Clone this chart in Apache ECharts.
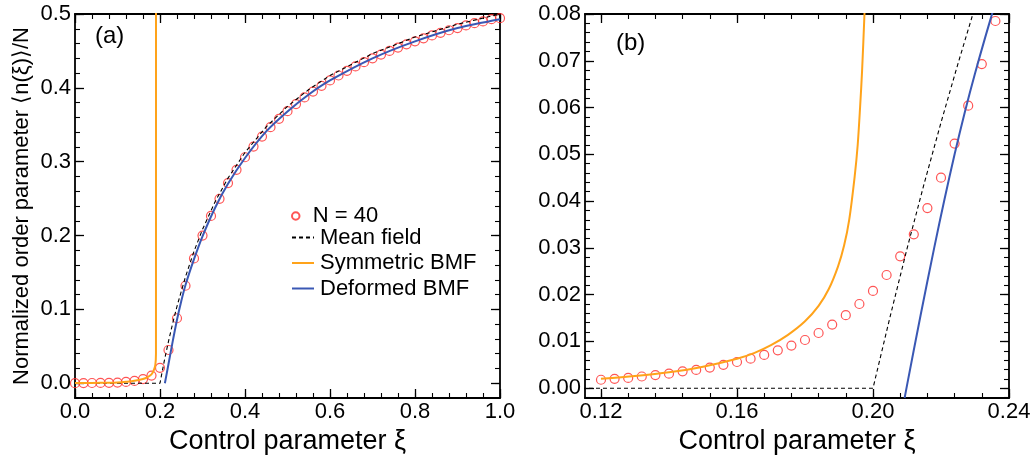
<!DOCTYPE html>
<html><head><meta charset="utf-8">
<script src="https://cdn.jsdelivr.net/npm/echarts@6/dist/echarts.min.js"></script>
<style>html,body{margin:0;padding:0;background:#fff}#c{width:1035px;height:459px}</style>
</head><body><div id="c"></div>
<script>
// ---------- Panel (a) data ----------
const aXi = [0,0.02,0.04,0.06,0.08,0.10,0.12,0.14,0.16,0.18,0.20,0.22,0.24,0.26,0.28,0.30,0.32,0.34,0.36,0.38,0.40,0.42,0.44,0.46,0.48,0.50,0.52,0.54,0.56,0.58,0.60,0.62,0.64,0.66,0.68,0.70,0.72,0.74,0.76,0.78,0.80,0.82,0.84,0.86,0.88,0.90,0.92,0.94,0.96,0.98,1.00];
const aN40 = [0.0001,0.0002,0.0003,0.0004,0.0006,0.0009,0.0018,0.0031,0.0056,0.0103,0.0208,0.045,0.088,0.132,0.169,0.200,0.2266,0.2497,0.271,0.289,0.306,0.3205,0.334,0.3467,0.358,0.3684,0.378,0.387,0.395,0.4027,0.410,0.4167,0.423,0.429,0.4348,0.440,0.445,0.450,0.4546,0.459,0.463,0.467,0.471,0.4745,0.478,0.481,0.4845,0.4876,0.490,0.493,0.4944];
const aMeanX = [0,0.2,0.205,0.21,0.22,0.23,0.24,0.26,0.28,0.30,0.33,0.36,0.40,0.45,0.50,0.55,0.60,0.70,0.80,0.90,1.00];
const aMeanY = [0,0,0.0152,0.0298,0.0568,0.0815,0.1042,0.1442,0.1786,0.2083,0.2462,0.2778,0.3125,0.3472,0.375,0.3977,0.4167,0.4464,0.4688,0.4861,0.5];
const aSymX = [0,0.04,0.08,0.10,0.12,0.14,0.16,0.17,0.18,0.185,0.189,0.1905,0.1906];
const aSymY = [0.0002,0.0004,0.0007,0.0011,0.0020,0.0033,0.0058,0.0080,0.0120,0.0170,0.025,0.04,0.52];
const aDefX = [0.2115,0.22,0.23,0.24,0.25,0.26,0.28,0.30,0.33,0.36,0.40,0.45,0.50,0.55,0.60,0.70,0.80,0.90,1.00];
const aDefY = [0,0.026,0.057,0.086,0.111,0.133,0.168,0.199,0.238,0.270,0.305,0.341,0.368,0.391,0.410,0.440,0.463,0.481,0.493];
const aXTicks = [0,0.2,0.4,0.6,0.8,1.0];
const aYTicks = [0,0.1,0.2,0.3,0.4,0.5];

// ---------- Panel (b) data ----------
const bXi = [0.120,0.124,0.128,0.132,0.136,0.140,0.144,0.148,0.152,0.156,0.160,0.164,0.168,0.172,0.176,0.180,0.184,0.188,0.192,0.196,0.200,0.204,0.208,0.212,0.216,0.220,0.224,0.228,0.232,0.236];
const bN40 = [0.0018,0.0020,0.0022,0.0025,0.0028,0.0031,0.0036,0.0039,0.0044,0.0050,0.0056,0.0063,0.0071,0.0081,0.0091,0.0103,0.0118,0.0136,0.0156,0.0180,0.0208,0.0242,0.0282,0.0329,0.0385,0.0450,0.0523,0.0604,0.0693,0.0785];
const bMeanX = [0.10,0.20,0.205,0.21,0.215,0.22,0.225,0.23,0.235];
const bMeanY = [0,0,0.0152,0.0298,0.0436,0.0568,0.0694,0.0815,0.0931];
const bSymX = [0.12,0.13,0.14,0.15,0.16,0.165,0.170,0.175,0.180,0.184,0.187,0.1897,0.1915,0.1930,0.1946,0.1955,0.1962,0.1968,0.1975,0.198];
const bSymY = [0.0020,0.0026,0.0034,0.0046,0.0063,0.0075,0.0092,0.0114,0.0143,0.0176,0.0212,0.0260,0.0305,0.0360,0.0452,0.0520,0.0600,0.0680,0.0801,0.0900];
const bDefX = [0.2093,0.2100,0.2140,0.2180,0.2210,0.2240,0.2270,0.2300,0.2330,0.2355,0.2370];
const bDefY = [-0.0021,0.0006,0.0156,0.0300,0.0403,0.0500,0.0590,0.0673,0.0750,0.0812,0.0850];
const bXTicks = [0.12,0.16,0.20,0.24];
const bYTicks = [0,0.01,0.02,0.03,0.04,0.05,0.06,0.07,0.08];

const names = ['N = 40','Mean field','Symmetric BMF','Deformed BMF'];
const xTitle = 'Control parameter ξ';
const yTitle = 'Normalized order parameter ⟨n(ξ)⟩/N';

const FONT = '"Liberation Sans", Arial, Helvetica, sans-serif';
const RED = '#ff2b2b', ORANGE = '#ffa31a', BLUE = '#3a58b4';

function pairs(xs, ys){ return xs.map((x,i)=>[x, ys[i]]); }
function minorTicks(step, min, max){
  const out = [];
  for (let k = Math.ceil(min/step - 1e-9); k*step <= max + 1e-9; k++) out.push(Math.round(k*step*1e6)/1e6);
  return out;
}

const xAxes = [], yAxes = [];
function makeAxes(list, dim, grid, min, max, majors, minors, digits, name, nameGap, nameSize){
  const mainPos = dim === 'x' ? 'bottom' : 'left';
  const oppPos = dim === 'x' ? 'top' : 'right';
  const line = {show:true, onZero:false, lineStyle:{color:'#000', width:1.8}};
  const noLine = {show:false, onZero:false};
  const tickMaj = {show:true, inside:true, length:9, customValues:majors, lineStyle:{color:'#000', width:1.3}};
  const tickMin = {show:true, inside:true, length:5, customValues:minors, lineStyle:{color:'#000', width:1.1}};
  const base = {type:'value', gridIndex:grid, min:min, max:max, splitLine:{show:false}, splitArea:{show:false}};
  const idx = list.length;
  list.push(Object.assign({}, base, {
    position: mainPos, axisLine: line, axisTick: tickMaj,
    axisLabel: {show:true, customValues:majors, formatter: v => Number(v).toFixed(digits),
      margin: dim === 'x' ? 3 : 4, color:'#000', fontSize:22, fontFamily:FONT},
    name: name || '', nameLocation:'middle', nameGap: nameGap || 0,
    nameTextStyle:{color:'#000', fontSize:nameSize || 22, fontFamily:FONT}
  }));
  list.push(Object.assign({}, base, {position: mainPos, axisLine: noLine, axisTick: tickMin, axisLabel:{show:false}}));
  list.push(Object.assign({}, base, {position: oppPos, axisLine: line, axisTick: tickMaj, axisLabel:{show:false}}));
  list.push(Object.assign({}, base, {position: oppPos, axisLine: noLine, axisTick: tickMin, axisLabel:{show:false}}));
  return idx;
}

const axA = makeAxes(xAxes, 'x', 0, 0, 1, aXTicks, minorTicks(0.04, 0, 1), 1, xTitle, 26, 27);
const ayA = makeAxes(yAxes, 'y', 0, -0.02, 0.5, aYTicks, minorTicks(0.02, -0.0199, 0.5), 1, yTitle, 42, 22);
const axB = makeAxes(xAxes, 'x', 1, 0.1153, 0.24, bXTicks, minorTicks(0.008, 0.1153, 0.24), 2, xTitle, 28, 27);
const ayB = makeAxes(yAxes, 'y', 1, -0.0021, 0.08, bYTicks, minorTicks(0.002, -0.002, 0.08), 2, '', 0, 22);

function seriesSet(xi, yi, n40x, n40y, mx, my, sx, sy, dx, dy){
  return [
    {name:names[0], type:'scatter', xAxisIndex:xi, yAxisIndex:yi, data:pairs(n40x, n40y),
     symbol:'circle', symbolSize:9, clip:false, z:2,
     itemStyle:{color:'rgba(255,255,255,0)', borderColor:RED, borderWidth:1.2}},
    {name:names[1], type:'line', xAxisIndex:xi, yAxisIndex:yi, data:pairs(mx, my), showSymbol:false, symbol:'none',
     clip:true, z:3, lineStyle:{color:'#000', width:1.1, type:[4,3]}, itemStyle:{color:'#000'}},
    {name:names[2], type:'line', xAxisIndex:xi, yAxisIndex:yi, data:pairs(sx, sy), showSymbol:false, symbol:'none',
     clip:true, z:3, smooth:0.3, lineStyle:{color:ORANGE, width:2}, itemStyle:{color:ORANGE}},
    {name:names[3], type:'line', xAxisIndex:xi, yAxisIndex:yi, data:pairs(dx, dy), showSymbol:false, symbol:'none',
     clip:true, z:3, smooth:0.3, lineStyle:{color:BLUE, width:2}, itemStyle:{color:BLUE}}
  ];
}

const series = [].concat(
  seriesSet(axA, ayA, aXi, aN40, aMeanX, aMeanY, aSymX, aSymY, aDefX, aDefY),
  seriesSet(axB, ayB, bXi, bN40, bMeanX, bMeanY, bSymX, bSymY, bDefX, bDefY)
);

const legText = {color:'#000', fontSize:22, fontFamily:FONT, lineHeight:24, padding:[0,0,0,1]};
const option = {
  animation:false,
  backgroundColor:'#fff',
  grid:[
    {left:75, top:14, width:425, height:384, outerBoundsMode:'none', containLabel:false},
    {left:585, top:14, width:424, height:384, outerBoundsMode:'none', containLabel:false}
  ],
  xAxis: xAxes,
  yAxis: yAxes,
  legend:[
    {data:[names[0]], orient:'vertical', left:286, top:199, itemWidth:22, itemHeight:7.5, itemGap:1,
     textStyle:legText, selectedMode:false},
    {data:[names[1], names[2], names[3]], orient:'vertical', left:286, top:220.5, itemWidth:22, itemHeight:12, itemGap:1.5,
     itemStyle:{opacity:0}, textStyle:legText, selectedMode:false}
  ],
  graphic:[
    {type:'text', left:95, top:24, style:{text:'(a)', font:'24px ' + FONT, fill:'#000'}},
    {type:'text', left:616, top:31, style:{text:'(b)', font:'24px ' + FONT, fill:'#000'}}
  ],
  series: series
};
echarts.init(document.getElementById('c')).setOption(option);
</script>
</body></html>
